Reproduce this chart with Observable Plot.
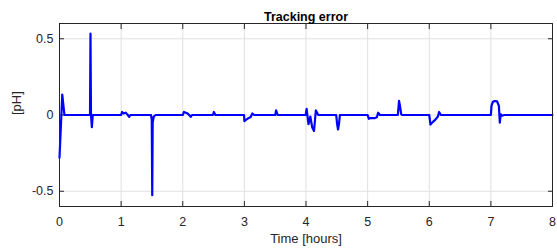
<!DOCTYPE html>
<html>
<head>
<meta charset="utf-8">
<script src="https://cdn.jsdelivr.net/npm/d3@7"></script>
<script src="https://cdn.jsdelivr.net/npm/@observablehq/plot@0.6"></script>
<style>
  html, body { margin: 0; padding: 0; background: #fff; }
  #chart svg { display: block; }
</style>
</head>
<body>
<div id="chart"></div>
<script>
const timeHours = [0, 0.045, 0.08, 0.495, 0.503, 0.511, 0.525, 0.54,
  1.0, 1.015, 1.04, 1.07, 1.1, 1.13, 1.15,
  1.485, 1.497, 1.505, 1.512, 1.53, 1.56,
  2.0, 2.02, 2.08, 2.13, 2.15,
  2.49, 2.505, 2.53,
  2.995, 3.0, 3.03, 3.07, 3.1, 3.13, 3.16,
  3.5, 3.515, 3.54,
  3.995, 4.01, 4.04, 4.07, 4.1, 4.13, 4.16, 4.2,
  4.49, 4.505, 4.52, 4.535, 4.55,
  5.0, 5.02, 5.05, 5.12, 5.15, 5.17, 5.2,
  5.49, 5.51, 5.525, 5.545, 5.56,
  6.0, 6.02, 6.06, 6.1, 6.14, 6.16, 6.19,
  7.0, 7.01, 7.03, 7.06, 7.1, 7.13, 7.145, 7.16, 7.18, 7.22, 8.0];
const errorPH = [-0.28, 0.134, 0, 0, 0.533, 0, -0.08, 0,
  0, 0.02, 0.01, 0.015, 0.005, -0.012, 0,
  0, -0.03, -0.526, -0.05, -0.01, 0,
  0, 0.02, 0.01, -0.012, 0,
  0, 0.02, 0,
  0, -0.04, -0.03, -0.02, -0.015, 0.01, 0,
  0, 0.03, 0,
  0, 0.04, -0.06, -0.01, -0.08, -0.105, 0.03, 0,
  0, -0.06, -0.095, -0.06, 0,
  0, -0.025, -0.02, -0.02, -0.015, 0.015, 0,
  0, 0.092, 0.06, 0.005, 0,
  0, -0.063, -0.045, -0.03, -0.01, 0.02, 0,
  0, 0.06, 0.085, 0.092, 0.09, 0.06, -0.05, 0.005, -0.005, 0, 0];
const xTicks = [0, 1, 2, 3, 4, 5, 6, 7, 8];
const yTicks = [-0.5, 0, 0.5];
const titleText = "Tracking error";
const xLabel = "Time [hours]";
const yLabel = "[pH]";

const data = timeHours.map((t, i) => ({t, e: errorPH[i]}));
const ink = "#262626";
const blank = () => "";

const chart = Plot.plot({
  width: 557,
  height: 248,
  marginLeft: 59,
  marginRight: 5,
  marginTop: 23,
  marginBottom: 42,
  style: {fontFamily: "'Liberation Sans', Arial, sans-serif", fontSize: "12px", color: ink, background: "#fff"},
  x: {domain: [0, 8]},
  y: {domain: [-0.6, 0.6]},
  marks: [
    Plot.gridX(xTicks, {stroke: "#e0e0e0", strokeOpacity: 1}),
    Plot.gridY(yTicks, {stroke: "#e0e0e0", strokeOpacity: 1}),
    Plot.axisX(xTicks, {anchor: "bottom", tickSize: 0, tickPadding: 11, fontSize: 12.5, label: null, fill: ink}),
    Plot.axisX(xTicks, {anchor: "bottom", tickSize: -5, tickFormat: blank, label: null, stroke: ink}),
    Plot.axisX(xTicks, {anchor: "top", tickSize: -5, tickFormat: blank, label: null, stroke: ink}),
    Plot.axisY(yTicks, {anchor: "left", tickSize: 0, tickPadding: 6, fontSize: 12.5, label: null, fill: ink, tickFormat: d => d === 0 ? "0" : String(d)}),
    Plot.axisY(yTicks, {anchor: "left", tickSize: -5, tickFormat: blank, label: null, stroke: ink}),
    Plot.axisY(yTicks, {anchor: "right", tickSize: -5, tickFormat: blank, label: null, stroke: ink}),
    Plot.line(data, {x: "t", y: "e", stroke: "#0000ff", strokeWidth: 2.2, strokeLinejoin: "round", curve: "linear"}),
    Plot.frame({stroke: ink, strokeWidth: 1}),
    Plot.text([titleText], {frameAnchor: "top", dy: -11, text: d => d, fontWeight: "bold", fontSize: 12.5, fill: "#000"}),
    Plot.text([xLabel], {frameAnchor: "bottom", dy: 36, text: d => d, fontSize: 13, fill: ink}),
    Plot.text([yLabel], {frameAnchor: "left", dx: -43, rotate: -90, text: d => d, fontSize: 13, fill: ink})
  ]
});
document.getElementById("chart").appendChild(chart);
</script>
</body>
</html>
